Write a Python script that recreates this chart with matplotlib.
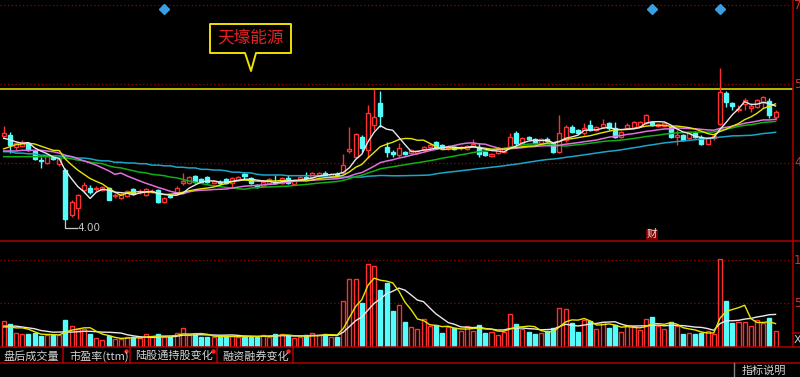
import numpy as np
import pandas as pd
import matplotlib
matplotlib.use('Agg')
import matplotlib.pyplot as plt
from matplotlib.patches import Polygon

plt.rcParams['font.family'] = ['Noto Sans CJK SC', 'DejaVu Sans']

#########################
######### DATA
#########################

open_ = [5.19, 5.21, 5.04, 5.05, 5.09, 4.98, 4.85, 4.81, 4.90, 4.80,
         4.71, 4.07, 4.17, 4.43, 4.46, 4.44, 4.43, 4.46, 4.34, 4.31,
         4.34, 4.44, 4.40, 4.36, 4.40, 4.43, 4.26, 4.34, 4.37, 4.53,
         4.53, 4.63, 4.58, 4.61, 4.53, 4.54, 4.58, 4.53, 4.57, 4.65,
         4.60, 4.50, 4.48, 4.53, 4.54, 4.53, 4.60, 4.51, 4.58, 4.61,
         4.61, 4.63, 4.67, 4.63, 4.65, 4.67, 4.98, 4.90, 5.18, 4.99,
         5.35, 5.66, 5.04, 4.97, 4.92, 4.97, 4.95, 4.95, 4.99, 5.04,
         5.11, 5.07, 5.02, 5.04, 5.02, 5.01, 5.05, 5.04, 4.97, 4.91,
         4.95, 4.97, 5.04, 5.24, 5.09, 5.18, 5.15, 5.09, 5.15, 5.09,
         4.97, 5.14, 5.32, 5.28, 5.24, 5.35, 5.28, 5.32, 5.38, 5.31,
         5.18, 5.31, 5.31, 5.33, 5.38, 5.39, 5.33, 5.34, 5.32, 5.18,
         5.21, 5.16, 5.24, 5.18, 5.08, 5.16, 5.36, 5.80, 5.66, 5.56,
         5.65, 5.59, 5.60, 5.68, 5.69, 5.46]

high_ = [5.33, 5.25, 5.12, 5.14, 5.11, 4.99, 4.90, 4.92, 4.91, 4.90,
         4.74, 4.29, 4.37, 4.54, 4.50, 4.48, 4.48, 4.47, 4.38, 4.38,
         4.43, 4.46, 4.44, 4.46, 4.44, 4.44, 4.33, 4.36, 4.48, 4.67,
         4.63, 4.64, 4.60, 4.63, 4.57, 4.57, 4.60, 4.61, 4.63, 4.68,
         4.61, 4.51, 4.55, 4.60, 4.64, 4.61, 4.64, 4.58, 4.63, 4.68,
         4.68, 4.68, 4.70, 4.67, 4.68, 4.94, 5.32, 5.24, 5.21, 5.63,
         5.86, 5.83, 5.11, 4.99, 5.09, 4.98, 5.01, 4.99, 5.05, 5.09,
         5.12, 5.08, 5.07, 5.05, 5.05, 5.07, 5.15, 5.09, 4.98, 4.95,
         5.04, 5.04, 5.24, 5.26, 5.18, 5.19, 5.16, 5.16, 5.18, 5.11,
         5.49, 5.35, 5.35, 5.29, 5.38, 5.42, 5.33, 5.43, 5.39, 5.39,
         5.26, 5.38, 5.41, 5.41, 5.51, 5.41, 5.38, 5.39, 5.33, 5.28,
         5.22, 5.25, 5.26, 5.21, 5.18, 5.24, 6.16, 5.83, 5.68, 5.63,
         5.73, 5.66, 5.72, 5.76, 5.73, 5.56]

low_ = [5.16, 4.95, 4.99, 5.04, 4.98, 4.85, 4.74, 4.80, 4.85, 4.77,
        4.00, 4.04, 4.02, 4.38, 4.37, 4.41, 4.41, 4.28, 4.31, 4.30,
        4.33, 4.36, 4.37, 4.34, 4.38, 4.24, 4.24, 4.31, 4.36, 4.50,
        4.51, 4.53, 4.53, 4.53, 4.51, 4.50, 4.51, 4.47, 4.55, 4.57,
        4.51, 4.46, 4.47, 4.51, 4.51, 4.51, 4.51, 4.50, 4.57, 4.57,
        4.60, 4.61, 4.63, 4.61, 4.61, 4.65, 4.95, 4.88, 4.97, 4.88,
        5.28, 5.32, 4.90, 4.90, 4.90, 4.92, 4.94, 4.94, 4.98, 5.02,
        5.01, 5.01, 4.99, 4.99, 4.99, 4.99, 5.04, 4.90, 4.91, 4.90,
        4.94, 4.95, 5.02, 5.07, 5.08, 5.14, 5.08, 5.08, 5.11, 4.95,
        4.95, 5.11, 5.24, 5.22, 5.21, 5.26, 5.26, 5.31, 5.28, 5.16,
        5.16, 5.29, 5.29, 5.32, 5.36, 5.33, 5.32, 5.32, 5.16, 5.07,
        5.12, 5.15, 5.16, 5.07, 5.07, 5.14, 5.35, 5.60, 5.56, 5.53,
        5.56, 5.53, 5.59, 5.59, 5.45, 5.42]

close_ = [5.24, 5.07, 5.09, 5.11, 4.99, 4.87, 4.84, 4.91, 4.87, 4.87,
          4.02, 4.26, 4.36, 4.50, 4.40, 4.46, 4.47, 4.29, 4.36, 4.37,
          4.41, 4.37, 4.41, 4.44, 4.41, 4.26, 4.31, 4.33, 4.46, 4.55,
          4.61, 4.54, 4.54, 4.54, 4.55, 4.53, 4.53, 4.60, 4.61, 4.63,
          4.53, 4.47, 4.54, 4.58, 4.53, 4.60, 4.53, 4.57, 4.61, 4.60,
          4.67, 4.67, 4.64, 4.65, 4.64, 4.78, 5.01, 5.22, 5.02, 5.52,
          5.46, 5.48, 4.97, 4.94, 5.02, 4.94, 4.99, 4.98, 5.04, 5.07,
          5.02, 5.02, 5.04, 5.01, 5.04, 5.05, 5.08, 4.94, 4.92, 4.94,
          5.02, 5.02, 5.18, 5.09, 5.16, 5.15, 5.09, 5.15, 5.12, 4.97,
          5.24, 5.32, 5.25, 5.24, 5.31, 5.28, 5.32, 5.36, 5.31, 5.18,
          5.25, 5.35, 5.39, 5.39, 5.49, 5.35, 5.36, 5.37, 5.18, 5.21,
          5.14, 5.24, 5.18, 5.08, 5.16, 5.19, 5.82, 5.68, 5.62, 5.58,
          5.70, 5.62, 5.70, 5.75, 5.49, 5.53]

# volume, in units of the volume grid (grid lines at 5 and 10)
volume = [3.0, 2.64, 1.57, 1.5, 1.5, 1.57, 1.26, 1.38, 1.38, 1.38,
          3.1, 2.45, 2.03, 2.03, 1.46, 1.07, 0.8, 1.26, 0.95, 0.88,
          1.18, 1.18, 1.03, 1.46, 1.18, 1.46, 1.18, 1.1, 1.64, 2.15,
          1.38, 1.38, 1.2, 1.2, 1.1, 1.2, 1.3, 1.3, 1.1, 1.3,
          1.2, 1.2, 1.4, 1.2, 1.5, 1.5, 1.3, 1.0, 1.1, 1.4,
          1.6, 1.4, 1.5, 1.2, 1.2, 5.3, 7.8, 7.8, 5.1, 9.5,
          9.35, 6.6, 7.3, 4.1, 4.8, 2.9, 2.26, 2.03, 3.2, 2.4,
          2.5, 1.57, 2.26, 2.15, 1.88, 2.45, 1.88, 2.5, 1.64, 1.76,
          1.38, 1.76, 3.8, 2.64, 2.03, 1.76, 1.46, 1.57, 1.88, 2.15,
          4.45, 4.37, 2.72, 1.76, 3.1, 3.0, 2.03, 2.9, 2.2, 2.5,
          1.76, 2.4, 2.4, 1.95, 3.18, 3.5, 2.4, 2.03, 2.83, 2.4,
          1.46, 1.64, 1.46, 1.64, 1.84, 1.5, 10.1, 5.3, 2.8, 2.9,
          2.9, 2.4, 3.1, 2.8, 3.3, 1.84]

# moving average values before enough bars are on screen
ma5_head = [5.16, 5.14, 5.11, 5.09]
ma10_head = [5.01, 5.04, 5.07, 5.08, 5.09, 5.08, 5.05, 5.02, 4.99]
ma20_head = [4.98, 4.98, 4.98, 4.99, 4.99, 4.99, 4.99, 4.98, 4.97, 4.95,
             4.92, 4.90, 4.87, 4.84, 4.81, 4.78, 4.74, 4.70, 4.65]
ma30_head = [4.90, 4.90, 4.90, 4.90, 4.90, 4.90, 4.90, 4.90, 4.90, 4.88,
             4.88, 4.87, 4.85, 4.84, 4.82, 4.81, 4.80, 4.77, 4.75, 4.74,
             4.72, 4.70, 4.68, 4.67, 4.65, 4.64, 4.63, 4.61, 4.60]
ma60_head = [4.97, 4.97, 4.95, 4.95, 4.94, 4.94, 4.92, 4.92, 4.91, 4.91,
             4.90, 4.90, 4.88, 4.88, 4.87, 4.85, 4.84, 4.84, 4.82, 4.82,
             4.81, 4.81, 4.80, 4.80, 4.78, 4.78, 4.77, 4.77, 4.75, 4.75,
             4.74, 4.74, 4.72, 4.72, 4.71, 4.71, 4.70, 4.68, 4.68, 4.67,
             4.67, 4.65, 4.64, 4.64, 4.64, 4.64, 4.63, 4.63, 4.63, 4.63,
             4.63, 4.63, 4.61, 4.61, 4.61, 4.61, 4.61, 4.61, 4.61]
vma5_head = [2.3, 2.3, 2.2, 2.2]
vma10_head = [2.4, 2.4, 2.4, 2.3, 2.2, 2.1, 1.9, 1.8, 1.7]

price_grid = [4.81, 5.93, 7.05]
price_labels = ['4', '5', '7']     # only the first digit is visible at the edge
price_line = 5.86                  # yellow horizontal line
vol_grid = [5, 10]
vol_labels = ['5', '1']
event_bars = [26, 105, 116]        # blue diamonds on top
fin_bar = 105                      # "财" marker
stock_name = '天壕能源'
tabs = ['盘后成交量', '市盈率(ttm)', '陆股通持股变化', '融资融券变化']

#########################
######### COLOURS
#########################
RED = '#ff3030'
CYAN = '#54fcfc'
GRID = '#9a0000'
BORDER = '#b00000'
BG = 'black'

#########################
######### FIGURE
#########################
W, H = 800, 377
fig = plt.figure(figsize=(8, 3.77), dpi=100, facecolor=BG)


def px_axes(x0, y0, x1, y1):
    a = fig.add_axes([x0 / W, 1 - y1 / H, (x1 - x0) / W, (y1 - y0) / H])
    a.set_facecolor(BG)
    a.set_axis_off()
    return a


n = len(close_)
xs = np.arange(n)
o = np.array(open_); h = np.array(high_); l = np.array(low_); c = np.array(close_)
v = np.array(volume)
up = c >= o
x0_px, step_px = 3.67, 6.175
xlim = (-x0_px / step_px, (793 - x0_px) / step_px)


def ma(vals, k, head):
    s = pd.Series(vals).rolling(k).mean().to_numpy()
    s[:k - 1] = head
    return s


# ---------- price panel
ax = px_axes(0, 0, 793, 241)
ax.set_xlim(*xlim)
ax.set_ylim(3.704, 7.121)
for g in price_grid:
    ax.axhline(g, color=GRID, lw=0.9, ls=(0, (1, 2)), zorder=1)
ax.axhline(price_line, color='#ecec00', lw=1.1, zorder=1)

w = 0.65
lo_b = np.minimum(o, c)
hi_b = np.maximum(o, c)
body = np.maximum(hi_b - lo_b, 0.004)
# up candles: hollow red, wick not through body
ax.vlines(xs[up], hi_b[up], h[up], color=RED, lw=1, zorder=2)
ax.vlines(xs[up], l[up], lo_b[up], color=RED, lw=1, zorder=2)
ax.bar(xs[up], body[up], bottom=lo_b[up], width=w, facecolor=BG,
       edgecolor=RED, lw=1, zorder=2)
# down candles: filled cyan
ax.vlines(xs[~up], l[~up], h[~up], color=CYAN, lw=1, zorder=2)
ax.bar(xs[~up], body[~up], bottom=lo_b[~up], width=w, facecolor=CYAN,
       edgecolor=CYAN, lw=1, zorder=2)

ax.plot(xs, ma(c, 60, ma60_head), color='#1aa6c8', lw=1.1, zorder=3)
ax.plot(xs, ma(c, 30, ma30_head), color='#10b010', lw=1.1, zorder=3)
ax.plot(xs, ma(c, 20, ma20_head), color='#e070e0', lw=1.1, zorder=3)
ax.plot(xs, ma(c, 10, ma10_head), color='#e6e600', lw=1.0, zorder=4)
ax.plot(xs, ma(c, 5, ma5_head), color='#e8e8e8', lw=1.0, zorder=4)

# lowest price marker
imin = int(np.argmin(l))
ymark = 3.888
ax.plot([imin, imin, imin + 1.85], [l[imin], ymark, ymark],
        color='#c8c8c8', lw=0.9, zorder=5)
ax.text(imin + 1.95, ymark, f'{l[imin]:.2f}', color='#c8c8c8', fontsize=7.5,
        va='center', ha='left', family='DejaVu Sans', zorder=5)

# event diamonds and 财 marker
ax.plot(event_bars, [7.00] * len(event_bars), ls='none', marker='D',
        ms=5, color='#3a9ee0', zorder=5)
ax.text(fin_bar, 3.80, '财', color='#ffd8d8', fontsize=7.5, ha='center',
        va='center', zorder=5,
        bbox=dict(facecolor='#7a0000', edgecolor='none', pad=0.3))

# ---------- volume panel
axv = px_axes(0, 241, 793, 347)
axv.set_xlim(*xlim)
axv.set_ylim(0, 12.18)
for g in vol_grid:
    axv.axhline(g, color=GRID, lw=0.9, ls=(0, (1, 2)), zorder=1)
axv.bar(xs[up], v[up], width=w, facecolor=BG, edgecolor=RED, lw=1, zorder=2)
axv.bar(xs[~up], v[~up], width=w, facecolor=CYAN, edgecolor=CYAN, lw=1, zorder=2)
axv.plot(xs, ma(v, 10, vma10_head), color='#e8e8e8', lw=1.0, zorder=3)
axv.plot(xs, ma(v, 5, vma5_head), color='#e6e600', lw=1.0, zorder=3)

# ---------- frame, labels, tabs (pixel overlay)
ov = fig.add_axes([0, 0, 1, 1])
ov.set_xlim(0, W)
ov.set_ylim(H, 0)
ov.set_axis_off()
ov.patch.set_alpha(0)

for yy in (241, 347, 363):
    ov.plot([0, W], [yy, yy], color=BORDER, lw=1.1)
ov.plot([793, 793], [0, 347], color=BORDER, lw=1.1)
ov.plot([793, W], [333, 333], color=BORDER, lw=1.1)
for xx in (63, 130, 216.5, 292.5):
    ov.plot([xx, xx], [347, 363], color=BORDER, lw=1.1)
ov.plot([734, 734], [363, H], color='#808080', lw=1.0)

# right-hand scale labels
for txt, g in zip(price_labels, price_grid):
    yy = 163 - (g - 4.81) / 0.01418
    ov.text(794, max(yy, 5), txt, color='#d83030', fontsize=8.5, va='center',
            ha='left', family='DejaVu Sans')
for txt, g in zip(vol_labels, vol_grid):
    yy = 347 - g * 8.7
    ov.text(794, yy, txt, color='#d83030', fontsize=8.5, va='center',
            ha='left', family='DejaVu Sans')
ov.text(794, 340, 'X', color='#c8c8c8', fontsize=8, va='center',
        ha='left', family='DejaVu Sans')

# tab labels
tab_x = [3, 69, 135, 222]
dots = [None, 126, 212.5, 288]
for t, xx, dx in zip(tabs, tab_x, dots):
    ov.text(xx, 356, t, color='#d4d4d4', fontsize=8, va='center', ha='left')
    if dx is not None:
        ov.plot(dx, 350.5, marker='o', ms=2.2, color='#ff2020', ls='none')
ov.text(742, 365.5, '指标说明', color='#d4d4d4', fontsize=8, va='top', ha='left')

# name callout
call = Polygon([(210, 24), (291, 24), (291, 53), (256, 53), (251, 71),
                (245, 53), (210, 53)], closed=True, facecolor=BG,
               edgecolor='#f0e000', lw=1.4, joinstyle='round')
ov.add_patch(call)
ov.text(250.5, 38.5, stock_name, color='#e82020', fontsize=12, ha='center',
        va='center')

fig.savefig('out.png', dpi=100, facecolor=BG)
